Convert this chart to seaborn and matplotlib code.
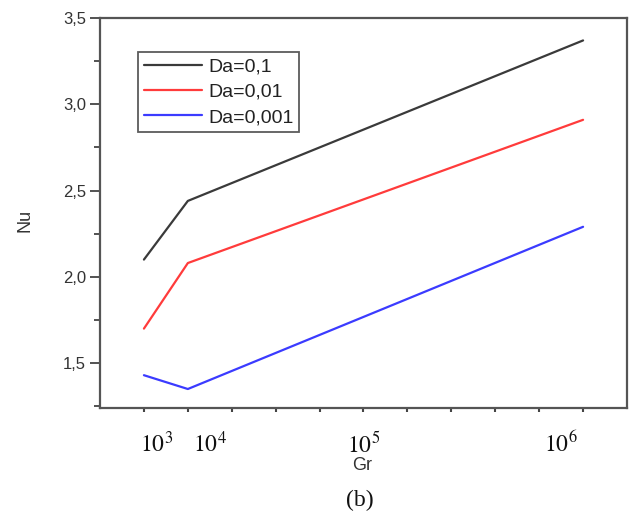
import matplotlib
matplotlib.use("Agg")
import numpy as np
import pandas as pd
import matplotlib.pyplot as plt
import matplotlib.transforms as mtransforms
import seaborn as sns

# values (x = position on the Gr axis, one unit per tick)
gr_pos = [1, 2, 11]
nu_da_1 = [2.10, 2.44, 3.37]
nu_da_01 = [1.70, 2.08, 2.91]
nu_da_001 = [1.43, 1.35, 2.29]
da_labels = ["Da=0,1", "Da=0,01", "Da=0,001"]
line_colors = ["#3a3a3a", "#ff3b3b", "#3b3bff"]
gr_tick_labels = [r"$10^{3}$", r"$10^{4}$", r"$10^{5}$", r"$10^{6}$"]
nu_ticks = [1.5, 2.0, 2.5, 3.0, 3.5]

frames = []
for lab, vals in zip(da_labels, [nu_da_1, nu_da_01, nu_da_001]):
    frames.append(pd.DataFrame({"Gr": gr_pos, "Nu": vals, "Da": lab}))
df = pd.concat(frames, ignore_index=True)

sns.set_style("white")
plt.rcParams["font.family"] = ["Liberation Sans", "DejaVu Sans"]
plt.rcParams["mathtext.fontset"] = "stix"

fig = plt.figure(figsize=(6.29, 5.13), dpi=100)
ax = fig.add_axes([0.159, 0.2047, 0.8378, 0.7602])

sns.lineplot(data=df, x="Gr", y="Nu", hue="Da",
             palette=dict(zip(da_labels, line_colors)),
             linewidth=1.6, sort=False, ax=ax)

ax.set_xlim(0, 12)
ax.set_ylim(1.24, 3.5)

# y axis
ax.set_yticks(nu_ticks)
ax.set_yticklabels([f"{v:.1f}".replace(".", ",") for v in nu_ticks])
ax.set_yticks(np.arange(1.25, 3.5, 0.5), minor=True)
ax.tick_params(axis="y", which="major", direction="out", length=7, width=1.3,
               color="#444444", labelsize=12, labelcolor="#333333", pad=3, left=True)
ax.tick_params(axis="y", which="minor", direction="out", length=4, width=1.3,
               color="#444444", left=True)

# x axis: plain ticks, labels placed by hand as in the original
ax.set_xticks(range(1, 12))
ax.set_xticklabels([])
ax.tick_params(axis="x", which="major", direction="out", length=3, width=1.5,
               color="#444444", bottom=True)

for sp in ax.spines.values():
    sp.set_color("#555555")
    sp.set_linewidth(1.6)

ax.set_xlabel("")
ax.set_ylabel("")

trans = mtransforms.blended_transform_factory(ax.transData, ax.transAxes)
for xp, lab in zip([1.28, 2.5, 6.0, 10.5], gr_tick_labels):
    ax.text(xp, -0.113, lab, transform=trans, ha="center", va="baseline",
            fontsize=17, color="#111111")

ax.text(0.497, -0.148, "Gr", transform=ax.transAxes, ha="center", va="center",
        fontsize=13, color="#333333")
fig.text(0.04, 0.571, "Nu", rotation=90, ha="center", va="center",
         fontsize=13, color="#333333")
fig.text(0.572, 0.025, "(b)", ha="center", va="center", fontsize=17,
         family="Liberation Serif", color="#111111")

handles, labels = ax.get_legend_handles_labels()
leg = ax.legend(handles, labels, loc="upper left", bbox_to_anchor=(0.072, 0.913),
                borderaxespad=0, frameon=True, fancybox=False, fontsize=14,
                handlelength=3.0, handletextpad=0.3, labelspacing=0.4,
                borderpad=0.3)
leg.get_frame().set_edgecolor("#333333")
leg.get_frame().set_linewidth(1.3)
for t in leg.get_texts():
    t.set_color("#222222")

fig.savefig("out.png", dpi=100)
